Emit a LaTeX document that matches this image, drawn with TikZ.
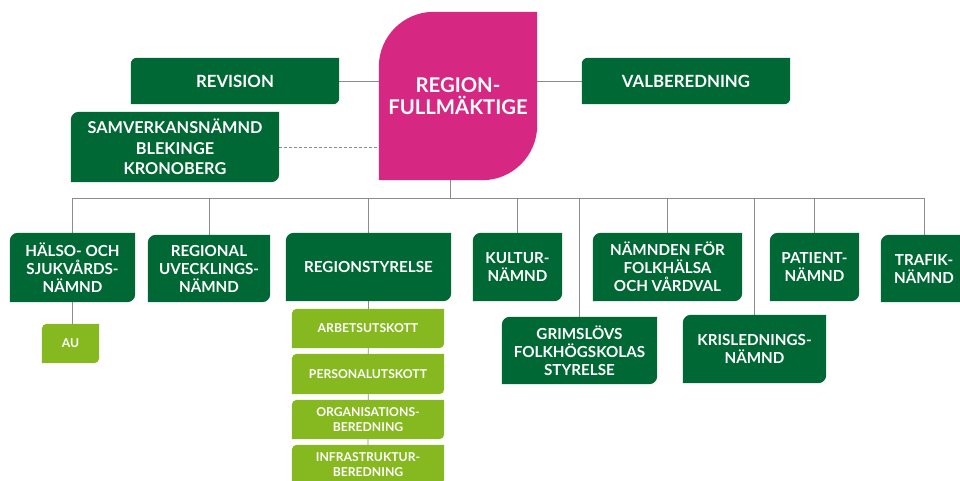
\documentclass[tikz,border=0pt]{standalone}
\usepackage{fontspec}
\setmainfont{Lato}
\usetikzlibrary{backgrounds}

\definecolor{rkmagenta}{HTML}{D62783}
\definecolor{rkgreen}{HTML}{006834}
\definecolor{rklime}{HTML}{86B81F}
\definecolor{rkline}{HTML}{8C8C8C}

\tikzset{
  box/.style={text=white, align=center, inner sep=0pt, font=\bfseries\fontsize{15.2}{18}\selectfont},
  topbox/.style={box, font=\bfseries\fontsize{16.8}{20.5}\selectfont, minimum width=208pt},
  subbox/.style={box, font=\bfseries\fontsize{12.2}{15}\selectfont, minimum width=152pt, minimum height=39pt},
  link/.style={draw=rkline, line width=0.8pt},
}

\begin{document}
\begin{tikzpicture}[x=1pt,y=1pt]

\useasboundingbox (0,0) rectangle (960,-480);
\clip (0,0) rectangle (960,-480);

% blad-form: rundat uppe till vänster och nere till höger
\def\leaf#1#2#3{\fill[#2] ([yshift=-#3]#1.north west) arc[start angle=180, end angle=90, radius=#3] -- (#1.north east) -- ([yshift=#3]#1.south east) arc[start angle=0, end angle=-90, radius=#3] -- (#1.south west) -- cycle;}

% fullmäktige
\node[box, font=\bfseries\fontsize{20.3}{22.5}\selectfont, minimum width=158pt, minimum height=168pt] (rf) at (458,-96) {REGION-\\FULLMÄKTIGE};

\node[topbox, minimum height=46pt] (rev) at (235,-81) {REVISION};
\node[topbox, minimum height=46pt] (val) at (686,-81) {VALBEREDNING};
\node[topbox, font=\bfseries\fontsize{16.3}{20.5}\selectfont, minimum height=70pt] (sam) at (175,-147) {SAMVERKANSNÄMND\\BLEKINGE\\KRONOBERG};

% nämnder
\node[box, minimum width=125pt, minimum height=69pt] (hs) at (72.5,-267.5) {HÄLSO- OCH\\SJUKVÅRDS-\\NÄMND};
\node[box, minimum width=122pt, minimum height=67pt] (ru) at (209,-268.5) {REGIONAL\\UVECKLINGS-\\NÄMND};
\node[box, minimum width=165pt, minimum height=68pt] (rs) at (368.5,-267) {REGIONSTYRELSE};
\node[box, minimum width=89pt, minimum height=68pt] (ku) at (517.5,-267) {KULTUR-\\NÄMND};
\node[box, minimum width=155pt, minimum height=67pt] (gf) at (579.5,-350.5) {GRIMSLÖVS\\FOLKHÖGSKOLAS\\STYRELSE};
\node[box, minimum width=149pt, minimum height=68pt] (nf) at (667.5,-267) {NÄMNDEN FÖR\\FOLKHÄLSA\\OCH VÅRDVAL};
\node[box, minimum width=143pt, minimum height=68pt] (kr) at (754.5,-349) {KRISLEDNINGS-\\NÄMND};
\node[box, minimum width=89pt, minimum height=68pt] (pa) at (814.5,-267) {PATIENT-\\NÄMND};
\node[box, minimum width=86pt, minimum height=67pt] (tr) at (924,-268.5) {TRAFIK-\\NÄMND};

% utskott
\node[subbox, minimum width=57pt] (au) at (70.5,-343.5) {AU};
\node[subbox] (ar) at (368,-328.5) {ARBETSUTSKOTT};
\node[subbox, minimum height=40pt] (pe) at (368,-374) {PERSONALUTSKOTT};
\node[subbox] (or) at (368,-419.5) {ORGANISATIONS-\\BEREDNING};
\node[subbox] (in) at (368,-464.5) {INFRASTRUKTUR-\\BEREDNING};

\begin{scope}[on background layer]
  % linjer
  \coordinate (bus) at (450,-198);
  \draw[link] (rf.south -| bus) -- (bus);
  \draw[link] (hs.north |- bus) -- (tr.north |- bus);
  \foreach \n in {hs,ru,rs,ku,gf,nf,kr,pa,tr}
    \draw[link] (\n.north |- bus) -- (\n.north);
  \draw[link] (rev.east) -- (rev.east -| rf.west);
  \draw[link] (val.west) -- (val.west -| rf.east);
  \draw[link, dash pattern=on 3pt off 2pt] (sam.east) -- (sam.east -| rf.west);
  \draw[link] (hs.south) -- (hs.south |- au.north);
  \draw[link] (rs.south) -- (in.north);
  % rutor
  \leaf{rf}{rkmagenta}{55pt}
  \foreach \n/\r in {rev/6pt,val/6pt,sam/8pt,hs/8pt,ru/8pt,rs/8pt,ku/8pt,gf/8pt,nf/8pt,kr/8pt,pa/8pt,tr/8pt}
    {\leaf{\n}{rkgreen}{\r}}
  \foreach \n in {au,ar,pe,or,in}
    {\leaf{\n}{rklime}{5pt}}
\end{scope}

\end{tikzpicture}
\end{document}
